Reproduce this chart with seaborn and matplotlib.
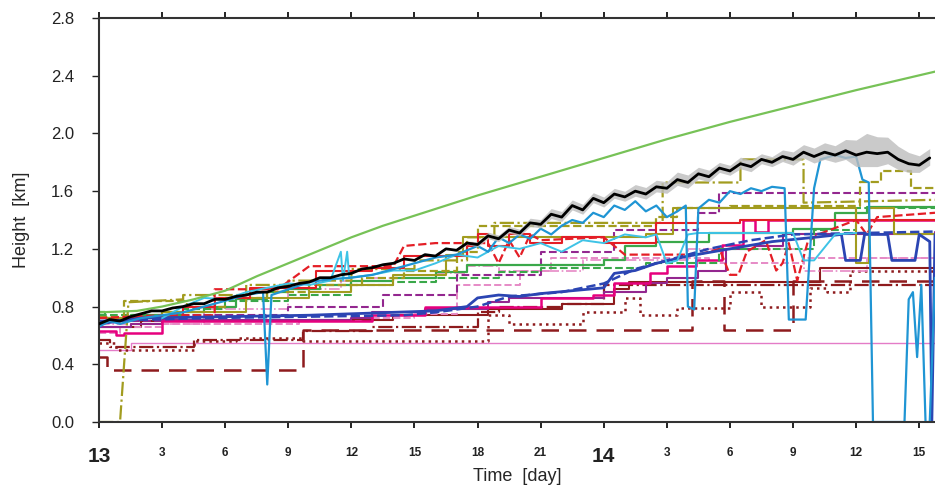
import numpy as np
import matplotlib
matplotlib.use("Agg")
import matplotlib.pyplot as plt
import seaborn as sns

# ---- data: time in hours from day 13 00h, height in km ----
green_smooth = [(0, 0.76), (1.8, 0.77), (3, 0.80), (4.5, 0.85), (6, 0.91), (7.5, 1.01),
                (9, 1.10), (10.5, 1.19), (12, 1.28), (13.5, 1.36), (15, 1.43), (18, 1.57),
                (21, 1.70), (24, 1.83), (27, 1.96), (30, 2.08), (33, 2.19), (36, 2.30),
                (39.8, 2.43)]

# ensemble mean (0.5 h steps) and its spread from 17 h on
black_mean = [0.68, 0.71, 0.70, 0.73, 0.75, 0.77, 0.77, 0.79, 0.80, 0.82,
              0.82, 0.85, 0.85, 0.87, 0.88, 0.90, 0.90, 0.93, 0.94, 0.96,
              0.97, 1.00, 1.00, 1.02, 1.03, 1.06, 1.07, 1.09, 1.10, 1.13,
              1.12, 1.16, 1.15, 1.20, 1.19, 1.24, 1.23, 1.29, 1.27, 1.33,
              1.31, 1.38, 1.37, 1.44, 1.42, 1.50, 1.47, 1.55, 1.52, 1.58,
              1.56, 1.60, 1.58, 1.63, 1.62, 1.68, 1.66, 1.72, 1.70, 1.76,
              1.74, 1.79, 1.77, 1.82, 1.80, 1.84, 1.82, 1.87, 1.84, 1.87,
              1.85, 1.88, 1.85, 1.87, 1.86, 1.87, 1.82, 1.79, 1.78, 1.83]
black_spread = [0.01, 0.01, 0.015, 0.02, 0.02, 0.02, 0.02, 0.025, 0.025, 0.03,
                0.03, 0.03, 0.03, 0.03, 0.03, 0.03, 0.03, 0.035, 0.035, 0.035,
                0.035, 0.04, 0.04, 0.035, 0.035, 0.03, 0.03, 0.035, 0.035, 0.03,
                0.03, 0.035, 0.04, 0.04, 0.045, 0.05, 0.05, 0.06, 0.08, 0.10,
                0.09, 0.08, 0.07, 0.06, 0.05, 0.05]

blue_lt = [(0, 0.66), (0.5, 0.70), (1, 0.68), (2, 0.72), (3, 0.74), (4, 0.76), (5, 0.80),
           (6, 0.84), (7, 0.88), (7.8, 0.90), (8.0, 0.26), (8.2, 0.88), (9, 0.92), (10, 0.97),
           (11, 0.99), (12, 1.00), (13, 1.02), (14, 1.06), (15, 1.10), (16, 1.14), (17, 1.16),
           (18, 1.22), (18.5, 1.18), (19, 1.28), (19.5, 1.24), (20, 1.30), (20.5, 1.27),
           (21, 1.34), (21.5, 1.30), (22, 1.36), (22.5, 1.40), (23, 1.38), (23.5, 1.45),
           (24, 1.42), (24.5, 1.50), (25, 1.47), (25.5, 1.53), (26, 1.46), (26.5, 1.50),
           (27, 1.42), (27.5, 1.46), (27.9, 1.50), (28.0, 0.80), (28.3, 0.78), (28.5, 1.48),
           (29, 1.54), (29.5, 1.52), (30, 1.60), (30.5, 1.58), (31, 1.62), (31.5, 1.60),
           (32, 1.63), (32.6, 1.62), (32.8, 0.71), (33.6, 0.71), (34.0, 1.62), (34.3, 1.82),
           (35, 1.85), (35.5, 1.83), (36, 1.84), (36.3, 1.68), (36.6, 1.66), (36.8, 0.0),
           (38.3, 0.0), (38.5, 0.85), (38.7, 0.90), (38.9, 0.45), (39.1, 0.95), (39.3, 0.0),
           (39.5, 0.0), (39.75, 1.0)]
cyan = [(3, 0.72), (4, 0.80), (5, 0.86), (6, 0.85), (7, 0.90), (8, 0.93), (9, 0.96),
        (10, 0.95), (11, 0.98), (11.5, 1.18), (11.6, 0.98), (11.8, 1.18), (11.9, 1.0),
        (13, 1.02), (14, 1.05), (15, 1.05), (16, 1.10), (17, 1.16), (18, 1.14), (19, 1.22),
        (20, 1.20), (21, 1.24), (22, 1.18), (23, 1.26), (24, 1.24), (25, 1.30), (26, 1.28),
        (26.5, 1.30), (27, 1.10), (27.5, 1.12), (28, 1.30), (28.5, 1.31), (33, 1.31),
        (33.5, 1.12), (34, 1.12), (35, 1.30), (36, 1.31)]
red_solid = [(0, 0.70), (1.5, 0.73), (4, 0.80), (5.5, 0.86), (7.2, 0.93), (10.3, 1.05),
             (13, 1.07), (14.5, 1.15), (17.5, 1.22), (18, 1.30), (18.5, 1.22), (19.5, 1.30),
             (20.5, 1.24), (22, 1.28), (24, 1.24), (26.5, 1.38), (30.5, 1.40), (39.75, 1.40)]
red_dash = [(0, 0.72), (3, 0.74), (5.5, 0.74), (5.5, 0.92), (8.5, 0.92), (10, 1.08),
            (14, 1.08), (14.5, 1.22), (16, 1.24), (18.5, 1.24), (19, 1.10), (19.5, 1.26),
            (20, 1.14), (20.5, 1.30), (21, 1.26), (24, 1.28), (25, 1.16), (28.5, 1.16),
            (29.5, 1.20), (30, 1.02), (30.4, 1.02), (30.8, 1.18), (31.7, 1.26), (32.2, 1.05),
            (32.5, 1.10), (32.8, 1.24), (33.2, 0.98), (33.7, 1.25), (34.2, 1.30), (36, 1.40),
            (36.5, 1.30), (37, 1.42), (39.75, 1.45)]
magenta = [(0, 0.63), (0.8, 0.60), (1.2, 0.62), (3, 0.70), (13, 0.74), (15.5, 0.80),
           (21, 0.86), (23.5, 0.88), (24.5, 0.96), (26.2, 1.03), (27, 1.08), (28.4, 1.12),
           (29.6, 1.23), (30.6, 1.40), (31.2, 1.32), (31.8, 1.40), (39.75, 1.40)]
purple = [(0, 0.66), (1.5, 0.68), (3, 0.71), (12, 0.72), (13, 0.76), (15.5, 0.78),
          (18.5, 0.83), (19.5, 0.86), (24, 0.90), (26, 0.96), (27, 1.0), (28.5, 1.05),
          (29.8, 1.20), (31.2, 1.22), (32.5, 1.30), (39.75, 1.32)]
purple_dash = [(0, 0.70), (4, 0.74), (9, 0.80), (13.5, 0.88), (17, 1.02), (21, 1.18),
               (24.5, 1.33), (28.5, 1.45), (29.5, 1.59), (39.75, 1.59)]
blue = [(0, 0.68), (2, 0.72), (6, 0.73), (10, 0.74), (12, 0.75), (14, 0.76), (16, 0.77),
        (17.5, 0.80), (18, 0.86), (19, 0.88), (20, 0.87), (21, 0.89), (24, 0.93),
        (24.5, 1.03), (25.5, 1.05), (26.5, 1.10), (28, 1.15), (30, 1.20), (32, 1.25),
        (34, 1.28), (35.3, 1.30), (35.5, 1.12), (36.2, 1.12), (36.4, 1.30), (37.5, 1.30),
        (37.7, 1.12), (38.8, 1.12), (39.0, 1.30), (39.5, 1.25), (39.6, 0.0), (39.75, 1.30)]
blue_dash = [(0, 0.70), (5, 0.72), (10, 0.73), (14.5, 0.74), (16, 0.76), (18, 0.80),
             (19.5, 0.87), (22, 0.90), (24, 0.96), (25.5, 1.06), (27, 1.12), (29, 1.20),
             (31, 1.26), (33, 1.30), (39.75, 1.32)]
pink_dash = [(0, 0.62), (1, 0.66), (3, 0.68), (9.5, 0.70), (12.5, 0.72), (15, 0.75),
             (17, 0.95), (20, 1.05), (21.5, 1.14), (26, 1.14), (29, 1.10), (33.5, 1.14),
             (39.75, 1.14)]
pink_dashdot = [(0, 0.68), (5, 0.78), (9, 0.92), (11.5, 0.98), (13, 1.0), (16, 1.03),
                (17.5, 1.08), (19, 1.05), (23, 1.12), (28, 1.20), (32, 1.20), (33.5, 1.05),
                (36.2, 1.05), (36.5, 1.14), (39.75, 1.18)]
pink_thin = [(0, 0.50), (1.5, 0.55), (39.75, 0.55)]
darkred_solid = [(0, 0.66), (2, 0.70), (10, 0.71), (14, 0.74), (18.5, 0.78), (22, 0.82),
                 (24.5, 0.92), (25.2, 0.97), (34.3, 1.07), (39.75, 1.07)]
darkred_dash = [(0, 0.45), (0.4, 0.36), (9.7, 0.64), (28.2, 0.98), (29.7, 0.64),
                (33.0, 0.98), (39.75, 0.98)]
darkred_dot = [(0, 0.55), (0.8, 0.50), (4.5, 0.56), (6.5, 0.58), (9.7, 0.56), (12.5, 0.56),
               (18.5, 0.74), (19.5, 0.68), (23, 0.76), (25, 0.86), (25.7, 0.74), (27.5, 0.79),
               (29, 0.79), (30, 0.90), (31.5, 0.80), (33, 0.80), (33.8, 0.93), (34.6, 0.90),
               (35.7, 1.05), (39.75, 1.05)]
darkred_dashdot = [(0, 0.57), (0.5, 0.52), (4.5, 0.57), (9.7, 0.63), (13, 0.66), (18, 0.76),
                   (19, 0.80), (22, 0.82), (24, 0.95), (39.75, 0.97)]
olive_dashdot = [(0, 0.0), (1.0, 0.0), (1.4, 0.83), (4.0, 0.85), (4.0, 0.88), (7.0, 0.88),
                 (7.0, 0.95), (9.0, 0.95), (9.0, 0.98), (12.0, 0.98), (12.0, 1.06), (15.0, 1.06),
                 (15.0, 1.12), (17.5, 1.12), (17.5, 1.28), (18.8, 1.28), (18.8, 1.38), (26.8, 1.38),
                 (26.8, 1.66), (30.5, 1.66), (30.5, 1.82), (33.5, 1.82), (33.5, 1.52), (39.75, 1.54)]
olive_dash = [(0, 0.73), (1.2, 0.84), (4.2, 0.80), (6, 0.86), (8, 0.90), (10, 0.95),
              (12.5, 1.00), (14.5, 1.05), (17, 1.18), (18, 1.36), (26.5, 1.42), (27.5, 1.48),
              (30, 1.50), (36.2, 1.66), (37.2, 1.74), (38.6, 1.62), (39.75, 1.62)]
olive_solid = [(0, 0.72), (3, 0.76), (7, 0.86), (10, 0.90), (12, 0.95), (14, 1.02),
               (16.5, 1.16), (17.3, 1.28), (26, 1.30), (27.3, 1.48), (35.8, 1.48), (36.0, 1.10),
               (36.6, 1.48), (37.8, 1.30), (39.75, 1.30)]
green_solid = [(0, 0.76), (0.3, 0.72), (1.5, 0.74), (3, 0.76), (5, 0.80), (6.5, 0.85),
               (8, 0.90), (9, 0.92), (10.5, 0.95), (12, 0.98), (14, 1.0), (16, 1.04),
               (17.5, 1.09), (24, 1.12), (25, 1.22), (26.5, 1.25), (29, 1.31), (33, 1.34),
               (35, 1.45), (36.5, 1.49), (39.75, 1.49)]
green_dash = [(0, 0.74), (4, 0.78), (6, 0.84), (9, 0.88), (12, 0.95), (14, 0.97), (16, 1.0),
              (19, 1.04), (21, 1.07), (26, 1.10), (29.5, 1.20), (34, 1.33), (36, 1.48),
              (39.75, 1.48)]

hour_ticks = list(range(0, 40, 3))
hour_labels = ['13', '3', '6', '9', '12', '15', '18', '21', '14', '3', '6', '9', '12', '15']
height_ticks = [0.0, 0.4, 0.8, 1.2, 1.6, 2.0, 2.4, 2.8]

# ---- style per series: (data, colour, linestyle, width, drawstyle) ----
DR = '#8e1b1d'
OL = '#a29c1f'
series = [
    (pink_thin, '#e47cc7', '-', 1.0, 'steps-post'),
    (darkred_dash, DR, (0, (7, 4)), 1.8, 'steps-post'),
    (darkred_dot, DR, ':', 1.8, 'steps-post'),
    (darkred_dashdot, DR, '-.', 1.6, 'steps-post'),
    (darkred_solid, DR, '-', 1.5, 'steps-post'),
    (pink_dash, '#e68ac6', '--', 1.4, 'steps-post'),
    (pink_dashdot, '#e68ac6', '-.', 1.2, 'steps-post'),
    (purple, '#93278f', '-', 1.5, 'steps-post'),
    (purple_dash, '#93278f', '--', 1.5, 'steps-post'),
    (magenta, '#e6007e', '-', 1.8, 'steps-post'),
    (green_dash, '#3aa84a', '--', 1.5, 'steps-post'),
    (green_solid, '#3aa84a', '-', 1.6, 'steps-post'),
    (olive_solid, OL, '-', 1.5, 'steps-post'),
    (olive_dash, OL, '--', 1.6, 'steps-post'),
    (olive_dashdot, OL, '-.', 1.6, 'default'),
    (red_solid, '#e41e26', '-', 1.5, 'steps-post'),
    (red_dash, '#e41e26', '--', 1.6, 'default'),
    (blue_dash, '#2b45b3', '--', 1.8, 'default'),
    (blue, '#2b45b3', '-', 2.0, 'default'),
    (cyan, '#3ec3e6', '-', 1.4, 'default'),
    (blue_lt, '#1f95d4', '-', 1.6, 'default'),
]

sns.set_theme(style="ticks")
plt.rcParams['font.family'] = ['Liberation Sans', 'DejaVu Sans']

fig = plt.figure(figsize=(9.35, 4.93), dpi=100)
ax = fig.add_axes([99 / 935, 71 / 493, 836 / 935, 404 / 493])

for data, col, ls, lw, ds in series:
    t, h = zip(*data)
    sns.lineplot(x=list(t), y=list(h), ax=ax, color=col, linestyle=ls, linewidth=lw,
                 drawstyle=ds, estimator=None, sort=False, legend=False)

t_mean = np.arange(0, 40, 0.5)
mean = np.array(black_mean)
t_band = t_mean[34:]
spread = np.array(black_spread)
ax.fill_between(t_band, mean[34:] - spread, mean[34:] + spread * 1.3,
                color='#bdbdbd', alpha=0.8, lw=0, zorder=3)
sns.lineplot(x=t_mean, y=mean, ax=ax, color='black', linewidth=2.0,
             estimator=None, sort=False, legend=False, zorder=4)

t, h = zip(*green_smooth)
sns.lineplot(x=list(t), y=list(h), ax=ax, color='#77c257', linewidth=1.6,
             estimator=None, sort=False, legend=False)

ax.set_xlim(0, 39.75)
ax.set_ylim(0, 2.8)
ax.set_xticks(hour_ticks)
ax.set_xticklabels(hour_labels)
for lab in ax.get_xticklabels():
    if lab.get_text() in ('13', '14'):
        lab.set_fontsize(15)
    else:
        lab.set_fontsize(8.5)
    lab.set_fontweight('bold')
ax.set_yticks(height_ticks)
ax.set_yticklabels([f'{v:.1f}' for v in height_ticks], fontsize=12)

ax.tick_params(axis='x', direction='out', length=4, width=1.4, pad=14,
               top=True, bottom=True, colors='#222222')
ax.tick_params(axis='y', direction='out', length=5, width=1.0, pad=13, colors='#222222')
for side in ('left', 'bottom', 'top'):
    ax.spines[side].set_linewidth(1.5)
    ax.spines[side].set_color('#333333')
ax.spines['right'].set_visible(False)

ax.set_xlabel('Time  [day]', fontsize=13)
ax.set_ylabel('Height  [km]', fontsize=13)
ax.xaxis.set_label_coords(0.5, -0.115)
ax.yaxis.set_label_coords(-0.082, 0.5)

fig.savefig('out.png', dpi=100)
